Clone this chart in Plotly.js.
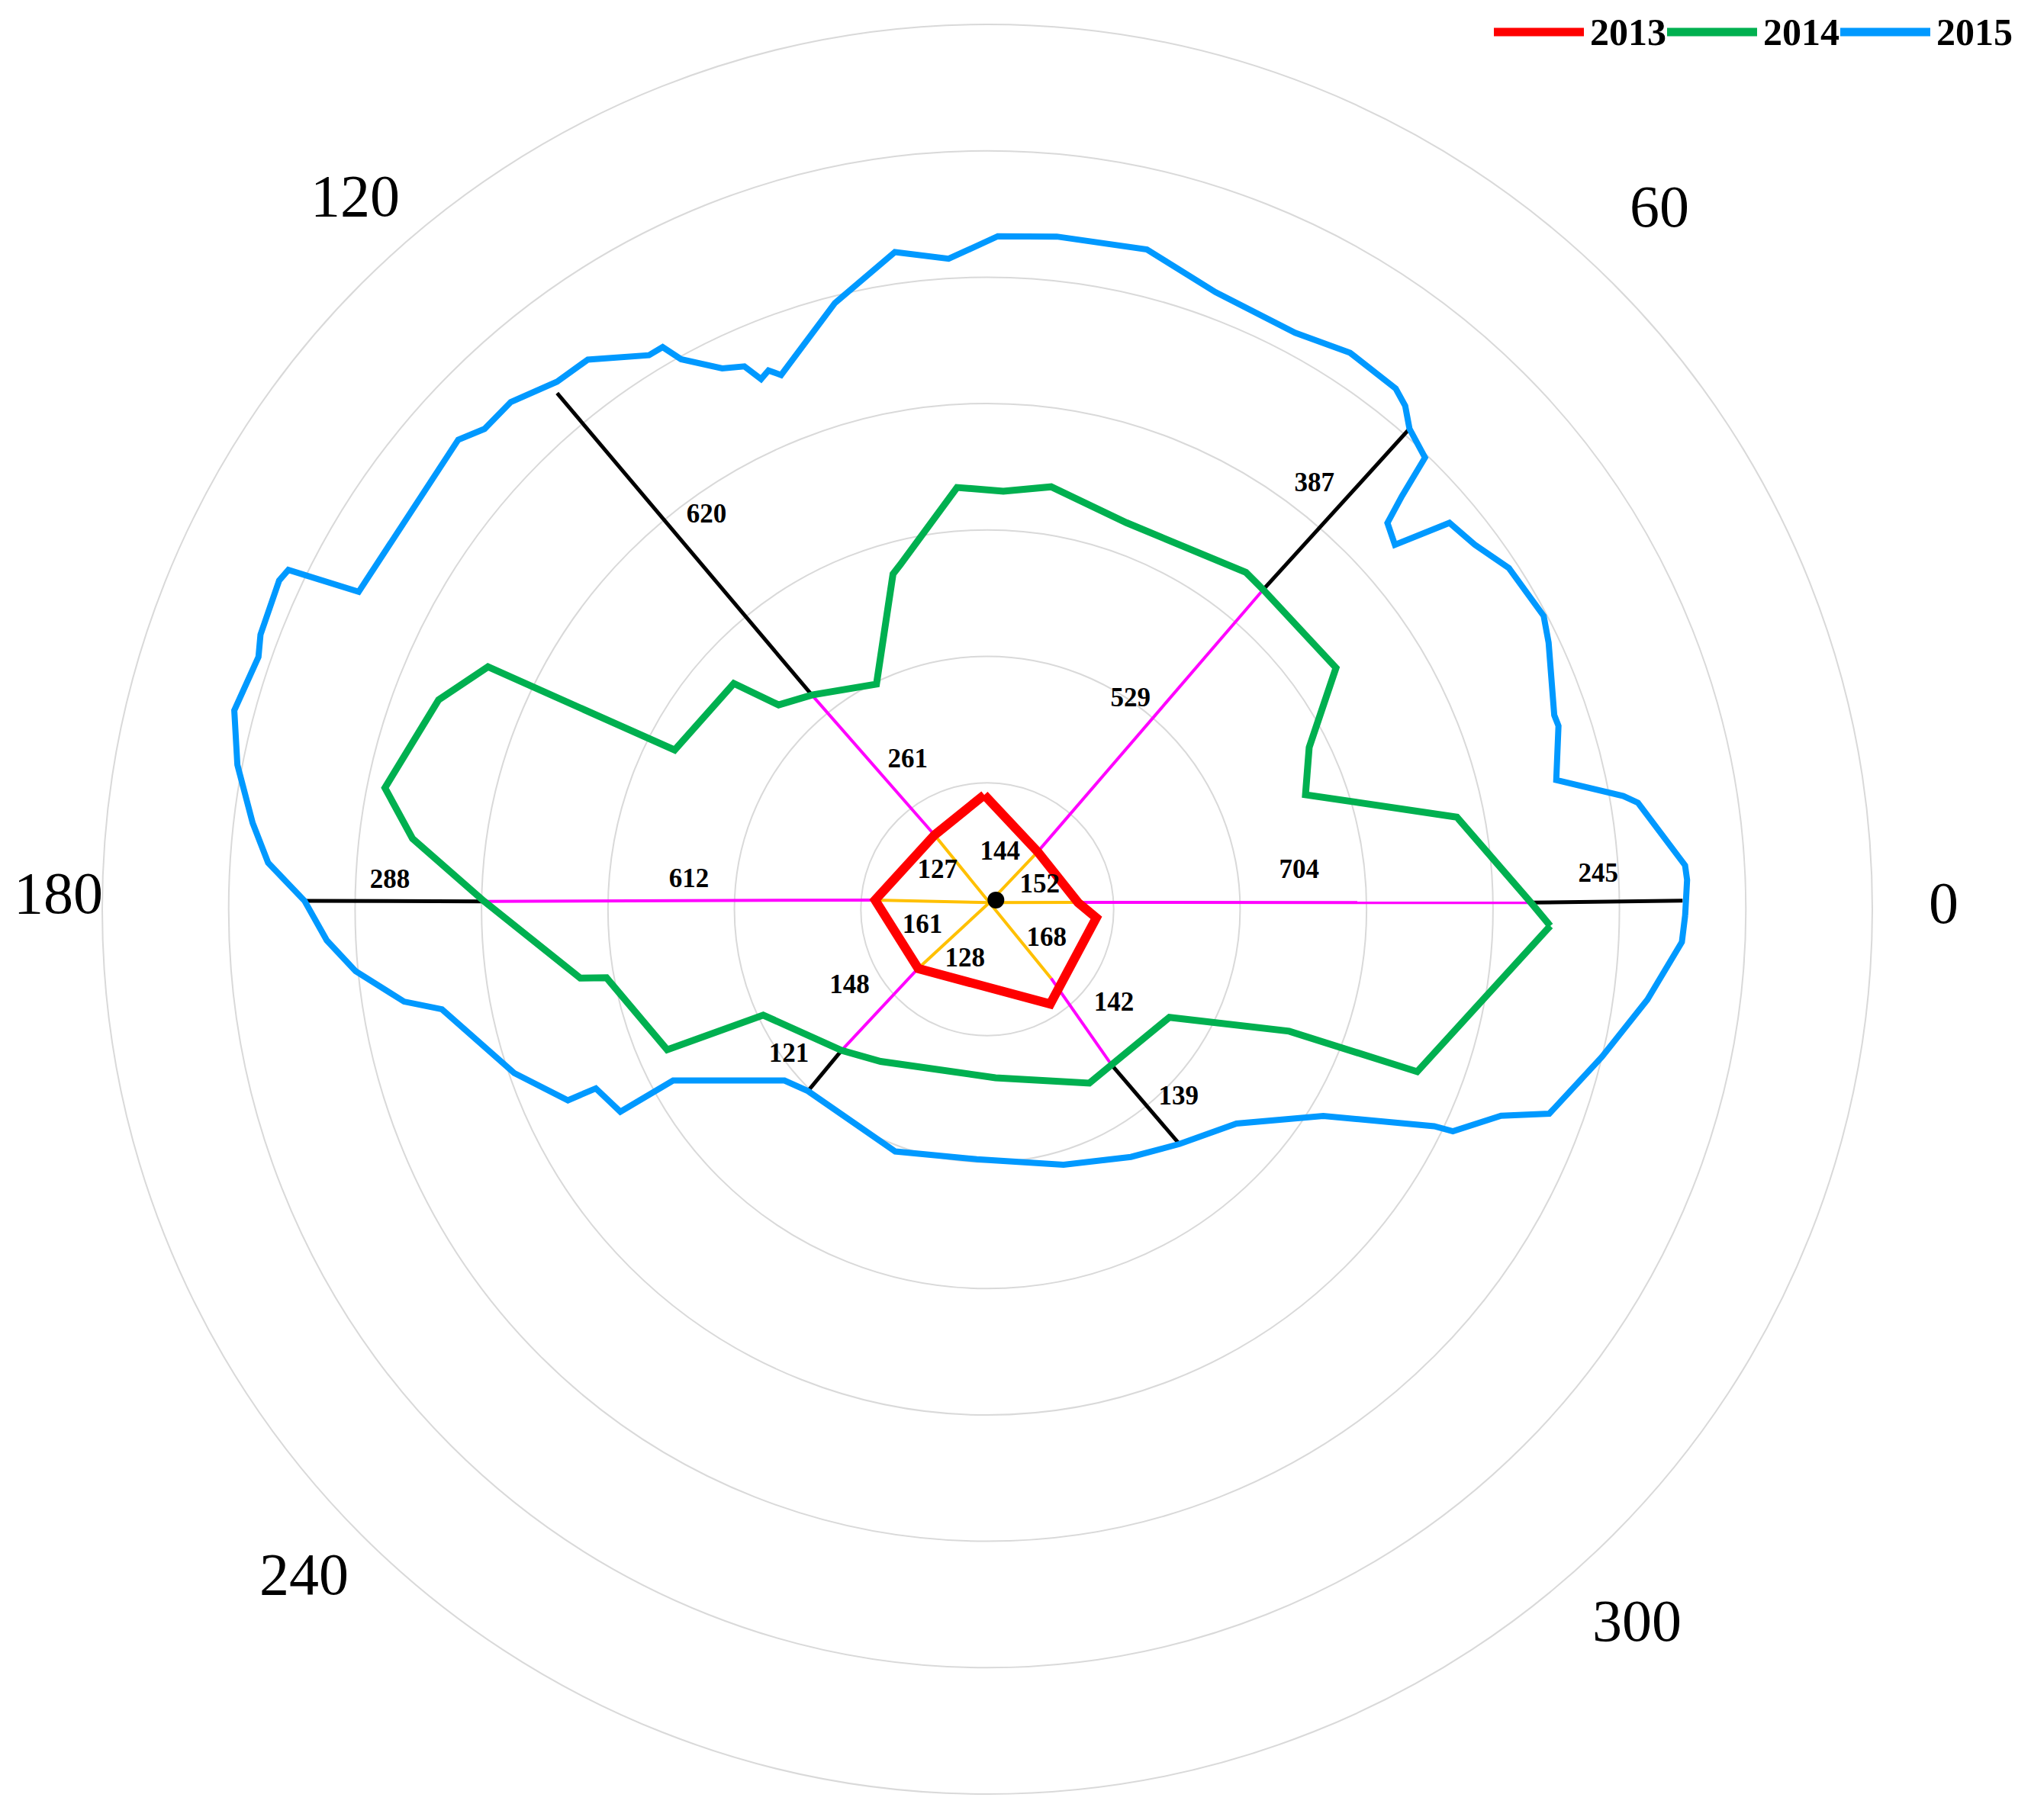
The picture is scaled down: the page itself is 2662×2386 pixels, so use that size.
<!DOCTYPE html>
<html>
<head>
<meta charset="utf-8">
<script src="https://cdn.plot.ly/plotly-3.0.1.min.js"></script>
<style>html,body{margin:0;padding:0;background:#fff;}#chart{width:2662px;height:2386px;}</style>
</head>
<body>
<div id="chart"></div>
<script>
// ---- Data (direction in degrees, distance in chart units; one ring = 200) ----
const years = ['2013', '2014', '2015'];
const yearColors = ['#ff0000', '#00b050', '#0099ff'];

const theta2013 = [91.5, 48.8, 4.2, 355.5, 303.6, 220.7, 175.3, 125.4];
const r2013 = [181, 121, 144, 173, 180, 144, 178, 144];

const theta2014 = [358.3, 339.3, 338.0, 329.3, 308.6, 300.4, 272.8, 235.0, 224.1, 205.3, 203.7, 190.2,
  189.6, 179.1, 173.0, 168.6, 159.1, 154.1, 153.0, 138.3, 135.6, 129.3, 116.2, 105.7, 104.2, 94.1,
  87.8, 81.4, 70.2, 52.5, 49.2, 34.7, 26.7, 19.8, 11.1, 0.7];
const r2014 = [891, 727, 515, 335, 315, 319, 267, 294, 321, 392, 553, 612,
  653, 796, 916, 972, 929, 878, 555, 537, 462, 438, 397, 551, 562, 669,
  662, 676, 650, 672, 668, 671, 570, 535, 757, 860];

const theta2015 = [359.5, 2.4, 3.6, 9.3, 10.1, 12.8, 17.8, 18.9, 25.4, 27.8, 33.2, 36.8, 39.9, 41.8,
  44.0, 44.9, 45.9, 48.7, 50.3, 51.9, 56.9, 61.9, 69.7, 76.4, 84.1, 89.1, 93.4, 98.0, 104.1, 111.1,
  112.1, 113.1, 114.1, 116.1, 119.1, 120.0, 121.4, 126.0, 129.2, 133.2, 136.3, 138.4, 153.2, 154.1,
  155.1, 159.3, 160.9, 165.2, 169.1, 173.3, 176.3, 179.3, 182.7, 185.6, 189.0, 190.4, 199.1, 204.5,
  204.6, 208.9, 208.6, 220.2, 225.4, 249.2, 267.6, 286.6, 300.1, 309.3, 319.3, 328.4, 334.1, 334.5,
  338.1, 340.0, 346.5, 352.2, 357.3];
const r2015 = [1104, 1108, 1106, 1043, 1022, 923, 949, 948, 983, 995, 986, 963, 953, 865,
  880, 926, 995, 1012, 1035, 1047, 1051, 1034, 1041, 1074, 1070, 1065, 1031, 1050, 989, 906,
  920, 912, 941, 953, 996, 1027, 1027, 1075, 1077, 1101, 1100, 1119, 1114, 1229,
  1235, 1229, 1220, 1232, 1208, 1170, 1140, 1080, 1046, 1004, 934, 877, 792, 729,
  681, 663, 566, 420, 404, 410, 396, 422, 453, 480, 520, 624, 786, 816,
  876, 946, 1000, 1054, 1100];

// Measurement spokes: common origin, then where each spoke meets the 2013, 2014, 2015 outlines
const spokeOriginTheta = 72;
const spokeOriginR = 11;
const spokeTheta2013 = [4.3, 48.7, 125.4, 175.3, 220.6, 312.7];
const spokeR2013 = [144, 121, 144, 178, 145, 149];
const spokeTheta2014 = [0.7, 49.2, 129.3, 179.1, 224.1, 308.6];
const spokeR2014 = [860, 668, 438, 796, 321, 315];
const spokeTheta2015 = [0.7, 48.7, 129.8, 179.3, 225.4, 309.3];
const spokeR2015 = [1100, 1012, 1063, 1081, 404, 480];

// Segment length labels
const labels2013 = [152, 144, 127, 161, 128, 168];
const labelTheta2013 = [24.2, 77.2, 142.8, 194.4, 246.1, 333.5];
const labelR2013 = [91, 91, 99, 106, 87, 105];
const labels2014 = [704, 529, 261, 612, 148, 142];
const labelTheta2014 = [6.9, 55.7, 118.2, 174.5, 209.4, 323.3];
const labelR2014 = [497, 402, 266, 474, 250, 250];
const labels2015 = [245, 387, 620, 288, 121, 139];
const labelTheta2015 = [3.2, 52.4, 125.5, 177.3, 216.4, 315.4];
const labelR2015 = [968, 848, 765, 946, 390, 425];

// Direction labels around the dial (text, direction where drawn, radial distance in chart units)
const dirLabelText = ['0', '60', '120', '180', '240', '300'];
const dirLabelTheta = [0.4, 46.3, 131.5, 179.0, 224.2, 312.4];
const dirLabelR = [1513, 1539, 1508, 1470, 1508, 1524];

// ---- Build traces ----
const closeLoop = a => a.concat([a[0]]);

function segs(th0, r0, th1, r1) {
  const th = [], r = [];
  for (let i = 0; i < th1.length; i++) {
    th.push(Array.isArray(th0) ? th0[i] : th0, th1[i], null);
    r.push(Array.isArray(r0) ? r0[i] : r0, r1[i], null);
  }
  return {th, r};
}
const sOrange = segs(spokeOriginTheta, spokeOriginR, spokeTheta2013, spokeR2013);
const sMagenta = segs(spokeTheta2013, spokeR2013, spokeTheta2014, spokeR2014);
const sBlack = segs(spokeTheta2014, spokeR2014, spokeTheta2015, spokeR2015);

const serif = 'Liberation Serif, Times New Roman, serif';
const labelFont = {family: serif, size: 35, color: '#000', weight: 'bold'};

const traces = [
  {type: 'scatterpolar', mode: 'lines', theta: sOrange.th, r: sOrange.r, connectgaps: false,
   line: {color: '#ffc000', width: 4}, showlegend: false, hoverinfo: 'skip'},
  {type: 'scatterpolar', mode: 'lines', theta: sMagenta.th, r: sMagenta.r, connectgaps: false,
   line: {color: '#ff00ff', width: 4}, showlegend: false, hoverinfo: 'skip'},
  {type: 'scatterpolar', mode: 'lines', theta: sBlack.th, r: sBlack.r, connectgaps: false,
   line: {color: '#000000', width: 5}, showlegend: false, hoverinfo: 'skip'},
  {type: 'scatterpolar', mode: 'lines', name: years[2], showlegend: false,
   theta: closeLoop(theta2015), r: closeLoop(r2015), line: {color: yearColors[2], width: 8}},
  {type: 'scatterpolar', mode: 'lines', name: years[1], showlegend: false,
   theta: closeLoop(theta2014), r: closeLoop(r2014), line: {color: yearColors[1], width: 9}},
  {type: 'scatterpolar', mode: 'lines', name: years[0], showlegend: false,
   theta: closeLoop(theta2013), r: closeLoop(r2013), line: {color: yearColors[0], width: 12}},
  {type: 'scatterpolar', mode: 'markers', theta: [47], r: [20], showlegend: false, hoverinfo: 'skip',
   marker: {color: '#000', size: 22}},
  {type: 'scatterpolar', mode: 'text', theta: labelTheta2013, r: labelR2013, text: labels2013.map(String),
   textfont: labelFont, showlegend: false, hoverinfo: 'skip', cliponaxis: false},
  {type: 'scatterpolar', mode: 'text', theta: labelTheta2014, r: labelR2014, text: labels2014.map(String),
   textfont: labelFont, showlegend: false, hoverinfo: 'skip', cliponaxis: false},
  {type: 'scatterpolar', mode: 'text', theta: labelTheta2015, r: labelR2015, text: labels2015.map(String),
   textfont: labelFont, showlegend: false, hoverinfo: 'skip', cliponaxis: false}
];

// ---- Layout ----
const W = 2662, H = 2386;
const polarDomain = {x: [0.0503, 0.9219], y: [0.01425, 0.98659]};
const RMAX = 1400;
const pcx = (polarDomain.x[0] + polarDomain.x[1]) / 2;
const pcy = (polarDomain.y[0] + polarDomain.y[1]) / 2;
const radPxX = (polarDomain.x[1] - polarDomain.x[0]) / 2;   // in paper fraction (x)
const radPxY = (polarDomain.y[1] - polarDomain.y[0]) / 2;   // in paper fraction (y)

const annotations = dirLabelText.map((t, i) => {
  const a = dirLabelTheta[i] * Math.PI / 180;
  const f = dirLabelR[i] / RMAX;
  return {xref: 'paper', yref: 'paper', x: pcx + f * radPxX * Math.cos(a), y: pcy + f * radPxY * Math.sin(a),
    xanchor: 'center', yanchor: 'middle', showarrow: false, text: t,
    font: {family: serif, size: 78, color: '#000'}};
});

// custom legend: long line swatch followed by bold year label
const legStart = 1958, legStep = 227, legLine = 118, legTextOff = 176, legY = 42;
const shapes = [];
years.forEach((y, i) => {
  const x0 = legStart + i * legStep;
  shapes.push({type: 'line', xref: 'paper', yref: 'paper', x0: x0 / W, x1: (x0 + legLine) / W,
    y0: 1 - legY / H, y1: 1 - legY / H, line: {color: yearColors[i], width: 11, cap: 'round'}});
  annotations.push({xref: 'paper', yref: 'paper', x: (x0 + legTextOff) / W, y: 1 - legY / H,
    xanchor: 'center', yanchor: 'middle', showarrow: false, text: y,
    font: {family: serif, size: 50, color: '#000', weight: 'bold'}});
});

const layout = {
  width: W, height: H,
  margin: {l: 0, r: 0, t: 0, b: 0},
  paper_bgcolor: '#ffffff',
  showlegend: false,
  annotations: annotations,
  shapes: shapes,
  polar: {
    domain: polarDomain,
    bgcolor: '#ffffff',
    radialaxis: {range: [0, RMAX], tick0: 0, dtick: 200, showticklabels: false, ticks: '',
      showline: false, gridcolor: '#d9d9d9', gridwidth: 2},
    angularaxis: {rotation: 0, direction: 'counterclockwise', showticklabels: false, ticks: '',
      showgrid: false, showline: true, linecolor: '#d9d9d9', linewidth: 2}
  }
};

Plotly.newPlot('chart', traces, layout, {displayModeBar: false, staticPlot: true});
</script>
</body>
</html>
